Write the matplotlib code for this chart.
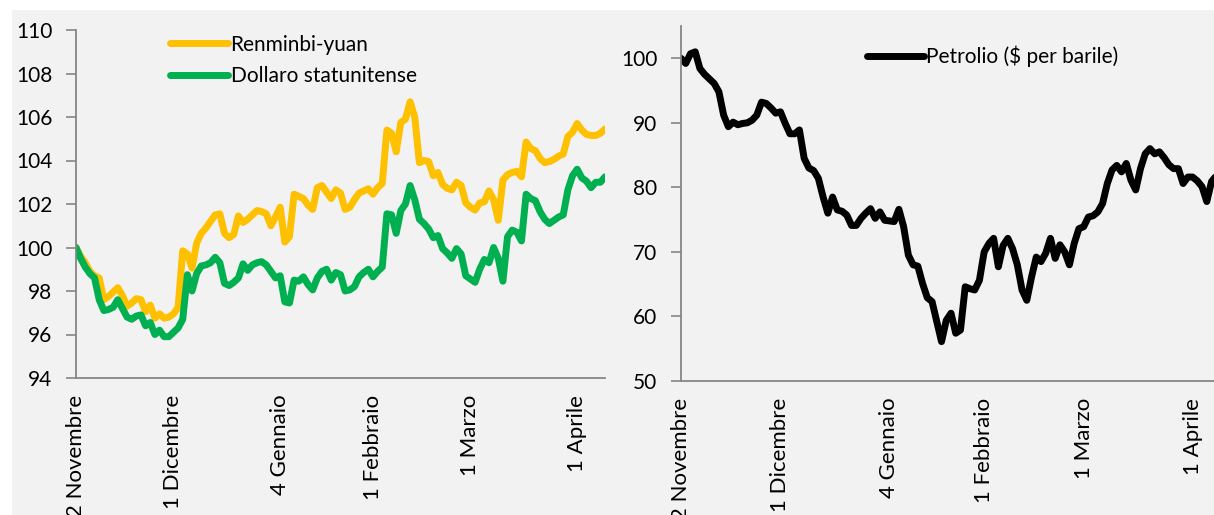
import matplotlib
matplotlib.use("Agg")
import matplotlib.pyplot as plt
from matplotlib.patches import Rectangle
import numpy as np

plt.rcParams['font.family'] = ['Lato', 'DejaVu Sans']

# tick labels (giorni lavorativi da 2 novembre)
tick_idx = [0, 21, 44, 64, 85, 108]
tick_lab = ["2 Novembre", "1 Dicembre", "4 Gennaio", "1 Febbraio", "1 Marzo", "1 Aprile"]

yuan = [100.0, 99.6, 99.3, 98.9, 98.7, 98.6, 97.6, 97.75, 97.95, 98.15,
        97.8, 97.3, 97.45, 97.65, 97.6, 97.05, 97.35, 96.75, 96.95, 96.75,
        96.8, 96.95, 97.25, 99.85, 99.7, 99.05, 100.2, 100.65, 100.9, 101.2,
        101.5, 101.55, 100.65, 100.45, 100.6, 101.45, 101.15, 101.3, 101.5, 101.7,
        101.65, 101.55, 101.0, 101.4, 101.85, 100.25, 100.5, 102.45, 102.35, 102.25,
        101.95, 101.75, 102.75, 102.85, 102.55, 102.25, 102.65, 102.5, 101.75, 101.85,
        102.2, 102.5, 102.6, 102.7, 102.45, 102.75, 102.95, 105.4, 105.25, 104.4,
        105.75, 105.9, 106.7, 106.0, 103.9, 104.0, 103.95, 103.3, 103.45, 102.9,
        102.72, 102.65, 103.0, 102.85, 102.05, 101.85, 101.72, 102.05, 102.1, 102.6,
        102.2, 101.25, 103.1, 103.35, 103.45, 103.5, 103.25, 104.85, 104.55, 104.45,
        104.1, 103.9, 103.95, 104.05, 104.2, 104.3, 105.1, 105.3, 105.7, 105.4,
        105.2, 105.15, 105.15, 105.25, 105.45]

dollaro = [100.0, 99.5, 99.1, 98.8, 98.6, 97.6, 97.1, 97.15, 97.25, 97.6,
           97.2, 96.8, 96.7, 96.85, 96.9, 96.4, 96.55, 96.0, 96.2, 95.9,
           95.9, 96.1, 96.3, 96.7, 98.75, 98.0, 98.8, 99.15, 99.2, 99.3,
           99.55, 99.3, 98.35, 98.25, 98.4, 98.6, 99.25, 98.95, 99.2, 99.3,
           99.35, 99.2, 98.9, 98.6, 98.7, 97.5, 97.45, 98.5, 98.45, 98.65,
           98.3, 98.05, 98.6, 98.9, 99.0, 98.5, 98.85, 98.75, 98.0, 98.05,
           98.2, 98.65, 98.85, 99.0, 98.65, 98.9, 99.1, 101.55, 101.5, 100.65,
           101.7, 102.0, 102.85, 102.2, 101.3, 101.1, 100.85, 100.45, 100.55, 99.95,
           99.75, 99.5, 99.95, 99.7, 98.7, 98.55, 98.4, 99.0, 99.45, 99.3,
           100.0, 99.5, 98.45, 100.5, 100.8, 100.7, 100.3, 102.45, 102.25, 102.15,
           101.65, 101.3, 101.1, 101.25, 101.4, 101.5, 102.65, 103.3, 103.6, 103.2,
           103.05, 102.75, 103.0, 103.0, 103.25]

petrolio = [100.0, 99.2, 100.7, 101.0, 98.4, 97.5, 96.8, 96.1, 94.8, 91.2,
            89.4, 90.1, 89.7, 89.9, 90.0, 90.4, 91.2, 93.2, 93.0, 92.3,
            91.5, 91.7, 89.9, 88.3, 88.3, 88.9, 84.5, 83.0, 82.6, 81.4,
            78.5, 76.0, 78.5, 76.5, 76.3, 75.7, 74.1, 74.1, 75.2, 76.0,
            76.7, 75.2, 76.2, 74.9, 74.8, 74.7, 76.6, 73.9, 69.5, 68.0,
            67.8, 65.1, 62.9, 62.3, 59.2, 56.1, 59.4, 60.5, 57.4, 57.9,
            64.6, 64.3, 64.1, 65.6, 70.0, 71.3, 72.1, 67.7, 71.0, 72.1,
            70.5, 68.0, 64.1, 62.5, 66.1, 69.2, 68.5, 69.8, 72.1, 69.0,
            71.1, 70.0, 68.0, 71.3, 73.6, 73.9, 75.4, 75.6, 76.2, 77.5,
            80.6, 82.7, 83.4, 82.4, 83.7, 81.1, 79.6, 82.9, 85.2, 86.0,
            85.2, 85.5, 84.6, 83.5, 82.9, 82.9, 80.6, 81.6, 81.6, 81.0,
            80.1, 77.8, 80.9, 81.8, 82.3]

W, H = 1214, 515
fig = plt.figure(figsize=(W / 100, H / 100), dpi=100, facecolor='white')

# sfondo grigio
fig.patches.append(Rectangle((12 / W, 0), 1202 / W, 505 / H, transform=fig.transFigure,
                             facecolor='#f2f2f2', edgecolor='none', zorder=-10))

ax1 = fig.add_axes([76 / W, 137 / H, 529 / W, 348 / H])
ax2 = fig.add_axes([681 / W, 134 / H, 540 / W, 355 / H])

grey = '#868686'
for ax in (ax1, ax2):
    ax.set_facecolor('none')
    for s in ('top', 'right'):
        ax.spines[s].set_visible(False)
    for s in ('left', 'bottom'):
        ax.spines[s].set_color(grey)
        ax.spines[s].set_linewidth(1.3)
    ax.tick_params(axis='y', direction='out', length=7, color=grey, width=1.2,
                   labelsize=15, pad=10)
    ax.tick_params(axis='x', length=0, labelsize=16, pad=12)
    ax.set_xticks(tick_idx)
    ax.set_xticklabels(tick_lab, rotation=90, va='top', ha='center')

x = np.arange(len(yuan))
ax1.plot(x, yuan, color='#FFC000', lw=5, solid_joinstyle='round',
         solid_capstyle='round', label='Renminbi-yuan')
ax1.plot(x, dollaro, color='#00B050', lw=5, solid_joinstyle='round',
         solid_capstyle='round', label='Dollaro statunitense')
ax1.set_xlim(0, len(yuan) - 1)
ax1.set_ylim(94, 110)
ax1.set_yticks(range(94, 111, 2))
ax1.legend(loc='upper left', bbox_to_anchor=(0.178, 0.987), frameon=False,
           fontsize=15, handlelength=2.8, handletextpad=0.1, borderpad=0,
           borderaxespad=0, labelspacing=0.57)

xp = np.arange(len(petrolio))
ax2.plot(xp, petrolio, color='black', lw=5, solid_joinstyle='round',
         solid_capstyle='round', label='Petrolio ($ per barile)')
ax2.set_xlim(0, len(petrolio) - 1)
ax2.set_ylim(50, 105)
ax2.set_yticks(range(50, 101, 10))
ax2.legend(loc='upper left', bbox_to_anchor=(0.345, 0.944), frameon=False,
           fontsize=15, handlelength=2.7, handletextpad=0.1, borderpad=0,
           borderaxespad=0)

fig.savefig('out.png', dpi=100, facecolor=fig.get_facecolor())
